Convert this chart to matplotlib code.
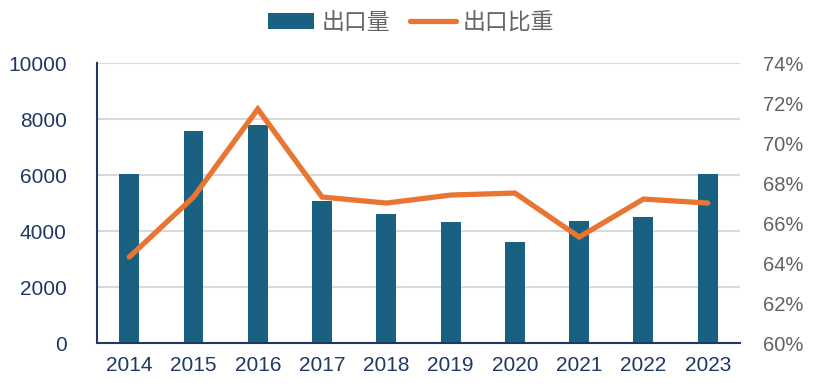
import numpy as np
import matplotlib.pyplot as plt
from matplotlib.ticker import FuncFormatter

years = ["2014", "2015", "2016", "2017", "2018", "2019", "2020", "2021", "2022", "2023"]
export_volume = [6020, 7560, 7770, 5060, 4620, 4330, 3610, 4350, 4520, 6040]
export_share = [64.3, 67.3, 71.7, 67.3, 67.0, 67.4, 67.5, 65.3, 67.2, 67.0]

plt.rcParams['font.family'] = ['Liberation Sans', 'Noto Sans CJK SC', 'DejaVu Sans']

navy = "#1F3864"
bar_color = "#1A6181"
line_color = "#E97532"
grid_color = "#D9D9D9"

fig = plt.figure(figsize=(8.23, 3.89), dpi=100)
ax = fig.add_axes([0.118, 0.118, 0.781, 0.72])
x = np.arange(len(years))

# 柱: 出口量
bars = ax.bar(x, export_volume, width=0.31, color=bar_color, zorder=2, label="出口量")
ax.set_xlim(-0.5, len(years) - 0.5)
ax.set_ylim(0, 10000)
ax.set_yticks(np.arange(0, 10001, 2000))
ax.yaxis.grid(True, color=grid_color, lw=1.5, zorder=0)
ax.set_axisbelow(True)
ax.set_xticks(x)
ax.set_xticklabels(years)
ax.tick_params(axis="y", length=0, pad=22, labelsize=15, labelcolor=navy)
ax.tick_params(axis="x", length=0, pad=9, labelsize=15, labelcolor=navy)
for s in ["top", "right"]:
    ax.spines[s].set_visible(False)
for s in ["left", "bottom"]:
    ax.spines[s].set_color(navy)
    ax.spines[s].set_linewidth(1.5)

# 折线: 出口比重
ax2 = ax.twinx()
line, = ax2.plot(x, export_share, color=line_color, lw=3.8, solid_capstyle="round",
                 solid_joinstyle="miter", zorder=3, label="出口比重")
ax2.set_ylim(60, 74)
ax2.set_yticks(np.arange(60, 75, 2))
ax2.yaxis.set_major_formatter(FuncFormatter(lambda v, p: f"{v:.0f}%"))
ax2.tick_params(axis="y", length=0, pad=17, labelsize=14.5, labelcolor="#626262")
for s in ["top", "right", "left", "bottom"]:
    ax2.spines[s].set_visible(False)

leg = fig.legend([bars, line], ["出口量", "出口比重"], loc="upper center",
                 bbox_to_anchor=(0.5, 1.025), ncol=2, frameon=False,
                 prop={"family": ["Noto Sans CJK SC"], "size": 16.5, "weight": "light"},
                 handlelength=2.0, handletextpad=0.3, columnspacing=0.9)
for t in leg.get_texts():
    t.set_color("#666666")

fig.savefig("out.png", dpi=100)
